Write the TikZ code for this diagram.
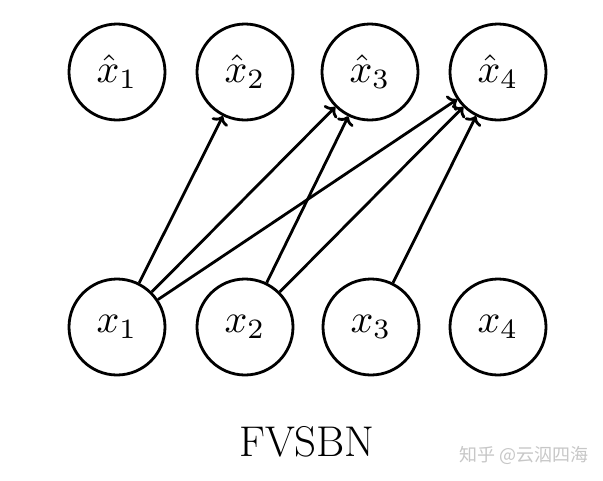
\documentclass[tikz,border=0pt]{standalone}
\usepackage{fontspec}
\usepackage{graphicx}
\newfontfamily\cjkfont{Noto Sans CJK SC}
\usetikzlibrary{arrows.meta}
\newcommand{\varlabel}[1]{\scalebox{4}{$#1$}}
\begin{document}
\begin{tikzpicture}[x=1pt,y=-1pt,
  unit/.style={circle,draw,line width=2.8pt,minimum size=96pt,inner sep=0pt},
  edge/.style={line width=2.8pt,-{Computer Modern Rightarrow[length=8pt,width=18pt]}}]
\useasboundingbox[fill=white] (0,0) rectangle (603,480);
\node[unit] (h1) at (117,72) {\varlabel{\hat{x}_1}};
\node[unit] (h2) at (245,72) {\varlabel{\hat{x}_2}};
\node[unit] (h3) at (370,72) {\varlabel{\hat{x}_3}};
\node[unit] (h4) at (498,72) {\varlabel{\hat{x}_4}};
\node[unit] (x1) at (117,327) {\varlabel{x_1}};
\node[unit] (x2) at (245,327) {\varlabel{x_2}};
\node[unit] (x3) at (371,327) {\varlabel{x_3}};
\node[unit] (x4) at (498,327) {\varlabel{x_4}};
\draw[edge] (x1) -- (h2);
\draw[edge] (x1) -- (h3);
\draw[edge] (x1) -- (h4);
\draw[edge] (x2) -- (h3);
\draw[edge] (x2) -- (h4);
\draw[edge] (x3) -- (h4);
\node[font=\fontsize{43}{50}\selectfont] (title) at (307,442) {FVSBN};
\node[font=\cjkfont\fontsize{18}{22}\selectfont,text=black!22] (wm) at (524,455) {知乎 @云泅四海};
\end{tikzpicture}
\end{document}
